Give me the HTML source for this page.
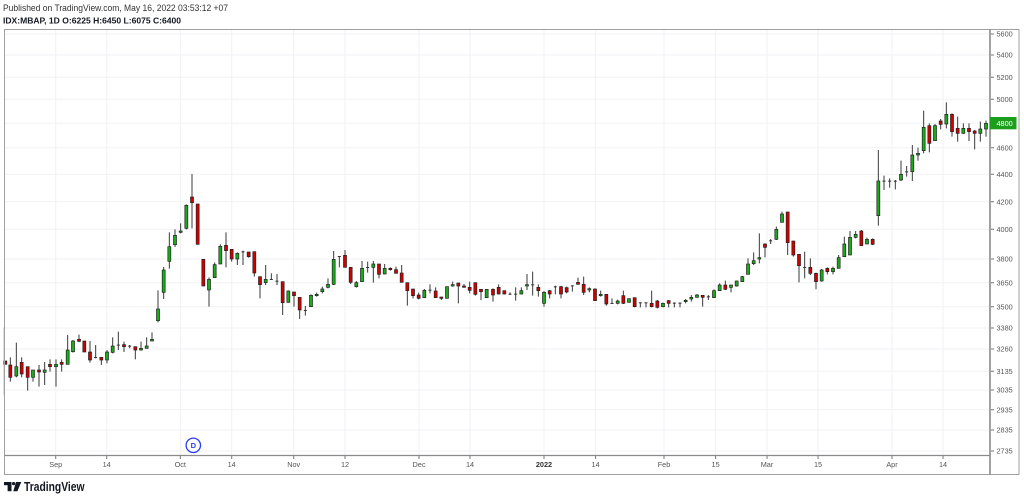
<!DOCTYPE html>
<html><head><meta charset="utf-8"><style>
html,body{margin:0;padding:0;background:#fff;}
svg{display:block;}
.w{stroke:#3a3a3a;stroke-width:3;fill:none}
.g{fill:#1aaa1a;stroke:#1f1f1f;stroke-width:2}
.r{fill:#d10000;stroke:#1f1f1f;stroke-width:2}
.d{fill:#333;stroke:none}
.pl{font-family:"Liberation Sans",sans-serif;font-size:7.3px;fill:#555}
.tl{font-family:"Liberation Sans",sans-serif;font-size:7.3px;fill:#555;text-anchor:middle}
</style></head><body>
<svg width="1024" height="499" viewBox="0 0 1024 499" xmlns="http://www.w3.org/2000/svg">
<rect width="1024" height="499" fill="#fff"/>
<text x="3" y="11" font-family="Liberation Sans, sans-serif" font-size="9.3" fill="#333" textLength="225" lengthAdjust="spacingAndGlyphs">Published on TradingView.com, May 16, 2022 03:53:12 +07</text>
<text x="3" y="23.5" font-family="Liberation Sans, sans-serif" font-size="8.6" font-weight="bold" fill="#131722" textLength="178" lengthAdjust="spacingAndGlyphs">IDX:MBAP, 1D O:6225 H:6450 L:6075 C:6400</text>

<!-- grid -->
<g stroke="#f1f2f4" stroke-width="1">
<path d="M55.7 30V455M106.7 30V455M180.3 30V455M231.7 30V455M293.7 30V455M345 30V455M419 30V455M470 30V455M544 30V455M595.6 30V455M664 30V455M715.6 30V455M767 30V455M818 30V455M892 30V455M943 30V455"/>
<path d="M4 34H990M4 55H990M4 77.3H990M4 99.3H990M4 123.3H990M4 147.7H990M4 174.3H990M4 201.7H990M4 229.3H990M4 259H990M4 282.7H990M4 306.7H990M4 328H990M4 349H990M4 371.3H990M4 390H990M4 409.7H990M4 430H990M4 451H990"/>
</g>

<!-- candles -->
<g transform="translate(0,300) scale(0.33333)">
<path class="w" d="M13 82V285M31 172V245M49 128V232M65 172V232M83 200V272M99 210V245M117 195V260M134 186V255M150 178V215M168 178V260M185 178V215M203 105V193M219 120V158M237 104V126M253 123V156M270 123V188M287 135V175M304 172V195M321 150V190M338 112V160M355 95V150M372 125V156M389 135V145M406 140V178M423 125V152M440 112V145M456 97V123"/>
<rect class="r" x="11.5" y="183" width="9" height="10"/>
<rect class="r" x="26.5" y="195" width="9" height="37"/>
<rect class="g" x="44.5" y="200" width="9" height="28"/>
<rect class="r" x="60.5" y="187" width="9" height="35"/>
<rect class="r" x="78.5" y="200" width="9" height="32"/>
<rect class="g" x="94.5" y="210" width="9" height="22"/>
<rect class="r" x="112.5" y="210" width="9" height="6"/>
<rect class="g" x="129.5" y="210" width="9" height="7"/>
<rect class="r" x="145.5" y="193" width="9" height="7"/>
<rect class="g" x="163.5" y="193" width="9" height="7"/>
<rect class="r" x="180.5" y="187" width="9" height="6"/>
<rect class="g" x="198.5" y="150" width="9" height="43"/>
<rect class="g" x="214.5" y="123" width="9" height="32"/>
<rect class="r" x="232.5" y="118" width="9" height="6"/>
<rect class="r" x="248.5" y="123" width="9" height="33"/>
<rect class="r" x="265.5" y="156" width="9" height="24"/>
<rect class="d" x="282.5" y="171" width="9" height="3"/>
<rect class="r" x="299.5" y="172" width="9" height="8"/>
<rect class="g" x="316.5" y="156" width="9" height="24"/>
<rect class="g" x="333.5" y="138" width="9" height="19"/>
<rect class="d" x="350.5" y="134" width="9" height="3"/>
<rect class="r" x="367.5" y="134" width="9" height="6"/>
<rect class="d" x="384.5" y="137" width="9" height="3"/>
<rect class="r" x="401.5" y="140" width="9" height="10"/>
<rect class="g" x="418.5" y="145" width="9" height="5"/>
<rect class="g" x="435.5" y="138" width="9" height="7"/>
<rect class="g" x="451.5" y="118" width="9" height="5"/>
</g>

<g transform="translate(150,165) scale(0.33333)">
<path class="w" d="M24 376V472M41 306V402M58 202V311M75 193V246M92 175V205M109 118V193M126 27V190M143 117V238M160 283V363M177 337V425M194 292V338M211 238V297M228 202V307M245 253V290M262 262V300M279 257V300M296 261V278M313 260V335M330 335V400M347 300V360M364 325V345M381 327V360M398 350V450M415 376V413M432 381V425M449 397V462M466 423V452M483 388V425M500 383V395"/>
<rect class="g" x="19.5" y="432" width="9" height="35"/>
<rect class="g" x="36.5" y="315" width="9" height="67"/>
<rect class="g" x="53.5" y="245" width="9" height="44"/>
<rect class="g" x="70.5" y="211" width="9" height="28"/>
<rect class="g" x="87.5" y="198" width="9" height="4"/>
<rect class="g" x="104.5" y="121" width="9" height="69"/>
<rect class="r" x="121.5" y="96" width="9" height="17"/>
<rect class="r" x="138.5" y="117" width="9" height="121"/>
<rect class="r" x="155.5" y="283" width="9" height="80"/>
<rect class="g" x="172.5" y="343" width="9" height="32"/>
<rect class="g" x="189.5" y="299" width="9" height="39"/>
<rect class="g" x="206.5" y="244" width="9" height="53"/>
<rect class="r" x="223.5" y="241" width="9" height="16"/>
<rect class="r" x="240.5" y="253" width="9" height="29"/>
<rect class="g" x="257.5" y="265" width="9" height="17"/>
<rect class="d" x="274.5" y="259" width="9" height="3"/>
<rect class="r" x="291.5" y="261" width="9" height="14"/>
<rect class="r" x="308.5" y="260" width="9" height="64"/>
<rect class="r" x="325.5" y="335" width="9" height="24"/>
<rect class="g" x="342.5" y="343" width="9" height="10"/>
<rect class="d" x="359.5" y="342" width="9" height="3"/>
<rect class="d" x="376.5" y="347" width="9" height="3"/>
<rect class="r" x="393.5" y="350" width="9" height="63"/>
<rect class="g" x="410.5" y="378" width="9" height="34"/>
<rect class="r" x="427.5" y="381" width="9" height="11"/>
<rect class="r" x="444.5" y="397" width="9" height="38"/>
<rect class="d" x="461.5" y="435" width="9" height="3"/>
<rect class="g" x="478.5" y="391" width="9" height="34"/>
<rect class="g" x="495.5" y="388" width="9" height="4"/>
</g>

<g transform="translate(318,235) scale(0.33333)">
<path class="w" d="M13 155V175M30 130V160M47 48V150M64 63V97M81 45V97M98 97V147M115 138V158M132 78V140M149 80V113M166 78V143M183 87V130M200 87V118M217 97V107M234 95V115M251 90V142M268 143V212M285 162V190M302 173V193M319 162V188M336 148V175M353 157V188M370 186V195M387 155V190M404 140V155M421 144V205M438 147V157M455 140V175M472 143V182M489 163V195"/>
<rect class="g" x="8.5" y="162" width="9" height="8"/>
<rect class="g" x="25.5" y="148" width="9" height="9"/>
<rect class="g" x="42.5" y="73" width="9" height="75"/>
<rect class="d" x="59.5" y="63" width="9" height="3"/>
<rect class="r" x="76.5" y="61" width="9" height="36"/>
<rect class="r" x="93.5" y="97" width="9" height="45"/>
<rect class="g" x="110.5" y="143" width="9" height="12"/>
<rect class="g" x="127.5" y="100" width="9" height="40"/>
<rect class="d" x="144.5" y="96" width="9" height="3"/>
<rect class="g" x="161.5" y="87" width="9" height="10"/>
<rect class="r" x="178.5" y="87" width="9" height="31"/>
<rect class="g" x="195.5" y="100" width="9" height="17"/>
<rect class="r" x="212.5" y="100" width="9" height="4"/>
<rect class="r" x="229.5" y="104" width="9" height="11"/>
<rect class="r" x="246.5" y="114" width="9" height="28"/>
<rect class="r" x="263.5" y="143" width="9" height="24"/>
<rect class="r" x="280.5" y="162" width="9" height="20"/>
<rect class="r" x="297.5" y="180" width="9" height="10"/>
<rect class="g" x="314.5" y="166" width="9" height="22"/>
<rect class="d" x="331.5" y="164" width="9" height="3"/>
<rect class="r" x="348.5" y="168" width="9" height="20"/>
<rect class="r" x="365.5" y="186" width="9" height="4"/>
<rect class="g" x="382.5" y="155" width="9" height="35"/>
<rect class="g" x="399.5" y="149" width="9" height="4"/>
<rect class="r" x="416.5" y="144" width="9" height="9"/>
<rect class="r" x="433.5" y="153" width="9" height="4"/>
<rect class="r" x="450.5" y="157" width="9" height="9"/>
<rect class="r" x="467.5" y="143" width="9" height="35"/>
<rect class="r" x="484.5" y="163" width="9" height="7"/>
</g>

<g transform="translate(486,255) scale(0.33333)">
<path class="w" d="M2 103V128M21 100V140M38 88V118M55 107V118M72 112V120M89 97V137M106 97V118M123 57V105M140 50V122M157 88V125M174 108V155M191 105V130M208 92V118M225 93V130M242 95V115M259 91V110M276 68V88M293 65V120M310 97V112M327 100V137M344 107V125M361 118V152M378 130V147M395 134V148M412 107V147M429 131V143M446 128V157M463 142V157M480 142V157M497 107V157"/>
<rect class="g" x="-2.5" y="103" width="9" height="25"/>
<rect class="r" x="16.5" y="103" width="9" height="17"/>
<rect class="r" x="33.5" y="97" width="9" height="20"/>
<rect class="r" x="50.5" y="107" width="9" height="10"/>
<rect class="d" x="67.5" y="116" width="9" height="3"/>
<rect class="d" x="84.5" y="116" width="9" height="3"/>
<rect class="g" x="101.5" y="107" width="9" height="10"/>
<rect class="g" x="118.5" y="89" width="9" height="4"/>
<rect class="d" x="135.5" y="88" width="9" height="3"/>
<rect class="r" x="152.5" y="97" width="9" height="10"/>
<rect class="g" x="169.5" y="112" width="9" height="33"/>
<rect class="r" x="186.5" y="107" width="9" height="10"/>
<rect class="d" x="203.5" y="94" width="9" height="3"/>
<rect class="r" x="220.5" y="95" width="9" height="22"/>
<rect class="r" x="237.5" y="98" width="9" height="13"/>
<rect class="d" x="254.5" y="91" width="9" height="3"/>
<rect class="r" x="271.5" y="82" width="9" height="6"/>
<rect class="r" x="288.5" y="88" width="9" height="24"/>
<rect class="g" x="305.5" y="101" width="9" height="4"/>
<rect class="r" x="322.5" y="102" width="9" height="35"/>
<rect class="g" x="339.5" y="118" width="9" height="4"/>
<rect class="r" x="356.5" y="118" width="9" height="29"/>
<rect class="d" x="373.5" y="144" width="9" height="3"/>
<rect class="g" x="390.5" y="138" width="9" height="7"/>
<rect class="r" x="407.5" y="122" width="9" height="23"/>
<rect class="g" x="424.5" y="131" width="9" height="11"/>
<rect class="r" x="441.5" y="128" width="9" height="27"/>
<rect class="d" x="458.5" y="142" width="9" height="3"/>
<rect class="d" x="475.5" y="142" width="9" height="3"/>
<rect class="r" x="492.5" y="145" width="9" height="10"/>
</g>

<g transform="translate(655,200) scale(0.33333)">
<path class="w" d="M7 300V325M24 308V322M41 300V322M58 307V322M75 307V322M92 297V310M109 285V305M126 282V293M143 286V320M160 285V300M177 268V293M194 250V272M211 242V270M228 255V277M245 242V260M262 228V245M279 175V223M296 157V195M313 100V190M330 130V172M347 117V132M364 80V120M381 35V67M398 36V165M415 123V170M432 163V247M449 155V235M466 175V225M483 218V268"/>
<rect class="r" x="2.5" y="303" width="9" height="19"/>
<rect class="g" x="19.5" y="310" width="9" height="10"/>
<rect class="r" x="36.5" y="302" width="9" height="8"/>
<rect class="d" x="53.5" y="308" width="9" height="3"/>
<rect class="d" x="70.5" y="308" width="9" height="3"/>
<rect class="g" x="87.5" y="301" width="9" height="4"/>
<rect class="g" x="104.5" y="292" width="9" height="5"/>
<rect class="g" x="121.5" y="285" width="9" height="7"/>
<rect class="r" x="138.5" y="286" width="9" height="6"/>
<rect class="d" x="155.5" y="289" width="9" height="3"/>
<rect class="g" x="172.5" y="272" width="9" height="21"/>
<rect class="g" x="189.5" y="255" width="9" height="17"/>
<rect class="r" x="206.5" y="255" width="9" height="13"/>
<rect class="g" x="223.5" y="255" width="9" height="7"/>
<rect class="g" x="240.5" y="243" width="9" height="15"/>
<rect class="g" x="257.5" y="230" width="9" height="15"/>
<rect class="g" x="274.5" y="192" width="9" height="31"/>
<rect class="g" x="291.5" y="182" width="9" height="9"/>
<rect class="g" x="308.5" y="173" width="9" height="4"/>
<rect class="r" x="325.5" y="132" width="9" height="10"/>
<rect class="d" x="342.5" y="121" width="9" height="3"/>
<rect class="g" x="359.5" y="88" width="9" height="30"/>
<rect class="g" x="376.5" y="42" width="9" height="25"/>
<rect class="r" x="393.5" y="36" width="9" height="92"/>
<rect class="r" x="410.5" y="123" width="9" height="42"/>
<rect class="r" x="427.5" y="163" width="9" height="34"/>
<rect class="d" x="444.5" y="201" width="9" height="3"/>
<rect class="r" x="461.5" y="202" width="9" height="18"/>
<rect class="r" x="478.5" y="220" width="9" height="25"/>
</g>

<g transform="translate(820,95) scale(0.33333)">
<path class="w" d="M5 522V560M22 517V538M39 515V538M56 480V520M73 425V485M90 408V480M107 408V430M124 405V452M141 428V447M158 430V450M175 165V392M192 242V285M209 250V278M226 255V283M243 197V258M260 213V245M277 150V258M294 158V197M311 47V175M328 85V172M345 87V137M362 72V103M379 22V100M396 55V125M413 65V140M430 85V117M447 85V138M464 105V163M481 80V140M498 77V125"/>
<rect class="g" x="0.5" y="525" width="9" height="33"/>
<rect class="r" x="17.5" y="520" width="9" height="10"/>
<rect class="g" x="34.5" y="520" width="9" height="10"/>
<rect class="g" x="51.5" y="488" width="9" height="32"/>
<rect class="g" x="68.5" y="447" width="9" height="38"/>
<rect class="g" x="85.5" y="427" width="9" height="53"/>
<rect class="g" x="102.5" y="418" width="9" height="9"/>
<rect class="r" x="119.5" y="408" width="9" height="44"/>
<rect class="g" x="136.5" y="433" width="9" height="14"/>
<rect class="r" x="153.5" y="433" width="9" height="15"/>
<rect class="g" x="170.5" y="258" width="9" height="104"/>
<rect class="d" x="187.5" y="257" width="9" height="3"/>
<rect class="d" x="204.5" y="257" width="9" height="3"/>
<rect class="d" x="221.5" y="257" width="9" height="3"/>
<rect class="g" x="238.5" y="238" width="9" height="17"/>
<rect class="d" x="255.5" y="229" width="9" height="3"/>
<rect class="g" x="272.5" y="180" width="9" height="50"/>
<rect class="g" x="289.5" y="175" width="9" height="5"/>
<rect class="g" x="306.5" y="97" width="9" height="70"/>
<rect class="r" x="323.5" y="92" width="9" height="53"/>
<rect class="g" x="340.5" y="92" width="9" height="45"/>
<rect class="r" x="357.5" y="78" width="9" height="10"/>
<rect class="g" x="374.5" y="58" width="9" height="29"/>
<rect class="r" x="391.5" y="58" width="9" height="52"/>
<rect class="r" x="408.5" y="100" width="9" height="15"/>
<rect class="g" x="425.5" y="100" width="9" height="15"/>
<rect class="r" x="442.5" y="100" width="9" height="10"/>
<rect class="r" x="459.5" y="108" width="9" height="7"/>
<rect class="g" x="476.5" y="102" width="9" height="13"/>
<rect class="g" x="493.5" y="85" width="9" height="17"/>
</g>

<!-- frame -->
<rect x="4.5" y="29.5" width="1014.5" height="445" fill="none" stroke="#a0a0a0" stroke-width="1"/>
<line x1="990" y1="29.5" x2="990" y2="474.5" stroke="#8a8a8a" stroke-width="1.6"/>
<line x1="4.5" y1="455.5" x2="990" y2="455.5" stroke="#8a8a8a" stroke-width="1.3"/>

<!-- price axis -->
<path stroke="#777" stroke-width="1" d="M991 34H994M991 55H994M991 77.3H994M991 99.3H994M991 147.7H994M991 174.3H994M991 201.7H994M991 229.3H994M991 259H994M991 282.7H994M991 306.7H994M991 328H994M991 349H994M991 371.3H994M991 390H994M991 409.7H994M991 430H994M991 451H994"/>
<text class="pl" x="996.5" y="36.6">5600</text>
<text class="pl" x="996.5" y="57.6">5400</text>
<text class="pl" x="996.5" y="79.9">5200</text>
<text class="pl" x="996.5" y="101.9">5000</text>
<text class="pl" x="996.5" y="150.3">4600</text>
<text class="pl" x="996.5" y="176.9">4400</text>
<text class="pl" x="996.5" y="204.3">4200</text>
<text class="pl" x="996.5" y="231.9">4000</text>
<text class="pl" x="996.5" y="261.6">3800</text>
<text class="pl" x="996.5" y="285.3">3650</text>
<text class="pl" x="996.5" y="309.3">3500</text>
<text class="pl" x="996.5" y="330.6">3380</text>
<text class="pl" x="996.5" y="351.6">3260</text>
<text class="pl" x="996.5" y="373.9">3135</text>
<text class="pl" x="996.5" y="392.6">3035</text>
<text class="pl" x="996.5" y="412.3">2935</text>
<text class="pl" x="996.5" y="432.6">2835</text>
<text class="pl" x="996.5" y="453.6">2735</text>
<rect x="990" y="117" width="26.5" height="12.3" fill="#1b9e1b"/>
<text x="996.5" y="126" font-family="Liberation Sans, sans-serif" font-size="7.3" fill="#fff">4800</text>

<!-- time axis -->
<path stroke="#777" stroke-width="1" d="M55.7 456V459M106.7 456V459M180.3 456V459M231.7 456V459M293.7 456V459M345 456V459M419 456V459M470 456V459M544 456V459M595.6 456V459M664 456V459M715.6 456V459M767 456V459M818 456V459M892 456V459M943 456V459"/>
<text class="tl" x="55.7" y="467">Sep</text>
<text class="tl" x="106.7" y="467">14</text>
<text class="tl" x="180.3" y="467">Oct</text>
<text class="tl" x="231.7" y="467">14</text>
<text class="tl" x="293.7" y="467">Nov</text>
<text class="tl" x="345" y="467">12</text>
<text class="tl" x="419" y="467">Dec</text>
<text class="tl" x="470" y="467">14</text>
<text class="tl" x="544" y="467" font-weight="bold" style="fill:#333">2022</text>
<text class="tl" x="595.6" y="467">14</text>
<text class="tl" x="664" y="467">Feb</text>
<text class="tl" x="715.6" y="467">15</text>
<text class="tl" x="767" y="467">Mar</text>
<text class="tl" x="818" y="467">15</text>
<text class="tl" x="892" y="467">Apr</text>
<text class="tl" x="943" y="467">14</text>

<!-- D marker -->
<circle cx="193.3" cy="445.3" r="7.2" fill="#fff" stroke="#2b3cf0" stroke-width="1.3"/>
<text x="193.3" y="448" text-anchor="middle" font-family="Liberation Sans, sans-serif" font-size="7.5" font-weight="bold" fill="#2b3cf0">D</text>

<!-- TradingView logo -->
<g fill="#131722">
<rect x="4" y="482" width="7.5" height="3.2"/>
<rect x="7.6" y="482" width="3.9" height="9.2"/>
<circle cx="13.6" cy="483.6" r="1.6"/>
<polygon points="16,482 21.3,482 17.4,491.2 13.3,491.2"/>
</g>
<text x="24" y="491" font-family="Liberation Sans, sans-serif" font-size="12.5" font-weight="bold" fill="#131722" textLength="60.5" lengthAdjust="spacingAndGlyphs">TradingView</text>
</svg>
</body></html>
